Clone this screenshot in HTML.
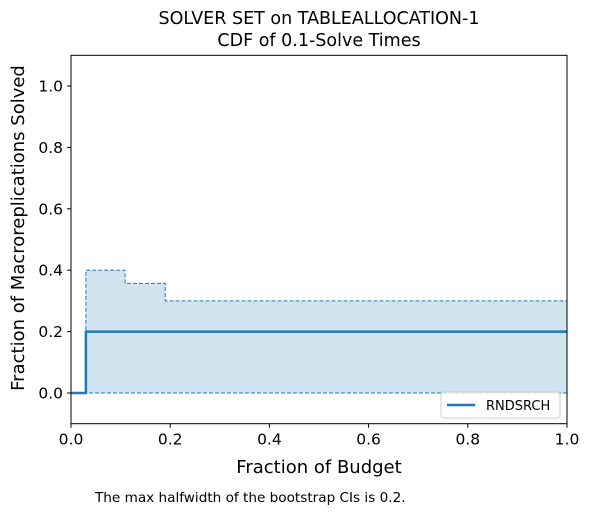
<!DOCTYPE html>
<html><head><meta charset="utf-8"><style>
body{margin:0;background:#fff;font-family:"DejaVu Sans","Liberation Sans",sans-serif}
svg text{font-family:"DejaVu Sans","Liberation Sans",sans-serif}
</style></head><body>
<svg width="589" height="514" xmlns="http://www.w3.org/2000/svg">
</svg>
<script>
const xSteps=[0,0.03,0.109,0.19,1.0];
const medianVals=[0,0.2,0.2,0.2];
const upperVals=[0,0.4,0.357,0.3];
const lowerVals=[0,0,0,0];
const xTicks=[0,0.2,0.4,0.6,0.8,1.0];
const yTicks=[0,0.2,0.4,0.6,0.8,1.0];
const L=71,R=567,T=55.3,B=423.7;
const sx=v=>L+v*(R-L);
const sy=v=>393-(v)*307;
const ns="http://www.w3.org/2000/svg";
const svg=document.querySelector('svg');
function mk(tag,attrs,txt){const e=document.createElementNS(ns,tag);for(const k in attrs)e.setAttribute(k,attrs[k]);if(txt!==undefined)e.textContent=txt;svg.appendChild(e);return e;}
function stepPath(vals){let d=`M${sx(xSteps[0])},${sy(vals[0])}`;for(let i=0;i<vals.length;i++){d+=` L${sx(xSteps[i])},${sy(vals[i])} L${sx(xSteps[i+1])},${sy(vals[i])}`;}return d;}
let fd=stepPath(upperVals);
for(let i=lowerVals.length-1;i>=0;i--){fd+=` L${sx(xSteps[i+1])},${sy(lowerVals[i])} L${sx(xSteps[i])},${sy(lowerVals[i])}`;}
fd+='Z';
let e=mk('path',{d:fd,fill:'#1f77b4','fill-opacity':0.2,stroke:'none'});


e=mk('path',{d:stepPath(upperVals),fill:'none',stroke:'#1f77b4','stroke-width':1,'stroke-dasharray':'4,2'});


e=mk('path',{d:stepPath(lowerVals),fill:'none',stroke:'#1f77b4','stroke-width':1,'stroke-dasharray':'4,2'});


e=mk('path',{d:stepPath(medianVals),fill:'none',stroke:'#1f77b4','stroke-width':2.5});


e=mk('rect',{x:L,y:T,width:R-L,height:B-T,fill:'none',stroke:'#000','stroke-width':1});


xTicks.forEach(t=>{
 mk('line',{x1:sx(t),x2:sx(t),y1:B,y2:B+4,stroke:'#000'});
 e=mk('text',{x:sx(t),y:B+21,'font-size':15.5,'text-anchor':'middle'},t.toFixed(1));
 
 
});
yTicks.forEach(t=>{
 mk('line',{x1:L-4,x2:L,y1:sy(t),y2:sy(t),stroke:'#000'});
 e=mk('text',{x:L-8,y:sy(t)+5.5,'font-size':15.5,'text-anchor':'end'},t.toFixed(1));
 
 
});
e=mk('text',{x:319,y:473,'font-size':18,'text-anchor':'middle'},'Fraction of Budget');


e=mk('text',{x:24,y:228,'font-size':18,'text-anchor':'middle',transform:'rotate(-90 24 228)'},'Fraction of Macroreplications Solved');


e=mk('text',{x:319,y:24,'font-size':17.5,'text-anchor':'middle'},'SOLVER SET on TABLEALLOCATION-1');


e=mk('text',{x:319,y:46,'font-size':17.5,'text-anchor':'middle'},'CDF of 0.1-Solve Times');


e=mk('text',{x:95,y:502,'font-size':13.6},'The max halfwidth of the bootstrap CIs is 0.2.');


e=mk('rect',{x:441,y:392,width:119,height:26,rx:3,fill:'#fff','fill-opacity':0.8,stroke:'#ccc'});


mk('line',{x1:447,x2:475,y1:405,y2:405,stroke:'#1f77b4','stroke-width':2.5});
e=mk('text',{x:486,y:410,'font-size':13},'RNDSRCH');


</script>
</body></html>
